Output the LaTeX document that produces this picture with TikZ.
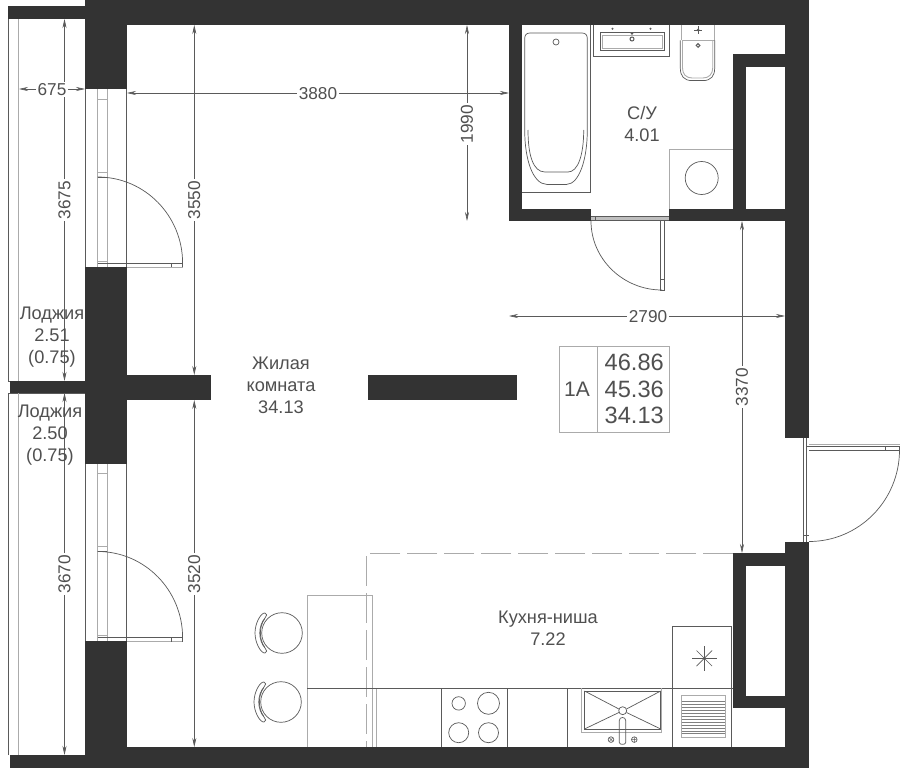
\documentclass[tikz,border=0pt]{standalone}
\usepackage{fontspec}
\setmainfont{Liberation Sans}
\usetikzlibrary{arrows.meta}
\definecolor{wallc}{HTML}{333333}
\definecolor{inkc}{HTML}{5A5A5A}
\definecolor{paleline}{HTML}{ABABAB}
\definecolor{textc}{HTML}{505050}
\tikzset{
  wall/.style={fill=wallc,draw=none},
  thin line/.style={draw=inkc,line width=0.7pt},
  pale line/.style={draw=paleline,line width=0.9pt},
  dim/.style={draw=inkc,line width=0.6pt,{Stealth[length=9pt,width=4pt]}-{Stealth[length=9pt,width=4pt]}},
  dimtext/.style={fill=white,inner sep=1.5pt,text=textc,font=\fontsize{17.2}{18}\selectfont},
  roomtext/.style={text=textc,align=center,inner sep=0pt,font=\fontsize{18.2}{22}\selectfont},
  bigtext/.style={text=textc,inner sep=0pt,anchor=west,font=\fontsize{23.6}{25}\selectfont},
  kitchenzone/.style={draw=paleline,line width=0.8pt,dash pattern=on 30pt off 7pt}
}
\newcommand{\balconydoor}{%
  \draw[pale line] (97.7,0) -- (97.7,178) (107.3,0) -- (107.3,178);
  \draw[thin line] (85.3,0) -- (85.3,178) (126.7,0) -- (126.7,178);
  \draw[pale line] (97.7,10) -- (107.3,10) (97.7,83) -- (107.3,83) (97.7,172) -- (107.3,172);
  \draw[thin line] (97.7,88) -- (107.3,88);
  \draw[thin line] (97.7,88) .. controls (145,88) and (182.6,127) .. (182.6,174);
  \draw[pale line] (97.7,178) -- (182.6,178);
  \draw[thin line] (97.7,174) -- (182.6,174) -- (182.6,178) (171.7,174) -- (171.7,178);
}
\newcommand{\barstool}[2]{%
  \draw[thin line] (#1,#2) circle (20.3);
  \draw[thin line] (#1-17.5,#2-14) .. controls (#1-23,#2-6) and (#1-23,#2+6) .. (#1-17.5,#2+14);
  \draw[thin line] (#1-17,#2-20) .. controls (#1-21,#2-20.5) and (#1-27,#2-10) .. (#1-27,#2)
     .. controls (#1-27,#2+10) and (#1-21,#2+20.5) .. (#1-17,#2+20)
     .. controls (#1-14.5,#2+19.5) and (#1-15,#2+17) .. (#1-17,#2+15)
     .. controls (#1-24,#2+7) and (#1-24,#2-7) .. (#1-17,#2-15)
     .. controls (#1-15,#2-17) and (#1-14.5,#2-19.5) .. (#1-17,#2-20) -- cycle;
}
\begin{document}
\begin{tikzpicture}[x=1pt,y=-1pt]
\useasboundingbox (0,0) rectangle (900,768);
\fill[white] (0,0) rectangle (900,768);

% loggia outlines
\draw[thin line] (8.3,19) -- (8.3,381) -- (85,381);
\draw[thin line] (8.3,755) -- (8.3,393) -- (85,393);
\draw[pale line] (18.5,19) -- (18.5,381) (18.5,393) -- (18.5,755);

% balcony doors
\begin{scope}[shift={(0,89)}]\balconydoor\end{scope}
\begin{scope}[shift={(0,463.5)}]\balconydoor\end{scope}

% walls
\fill[wall] (85,0) rectangle (809,25);
\fill[wall] (8,6.5) rectangle (85,19);
\fill[wall] (85,0) rectangle (127,89);
\fill[wall] (85,267) rectangle (127,464);
\fill[wall] (85,641) rectangle (127,768);
\fill[wall] (10,381) rectangle (85,393);
\fill[wall] (85,375) rectangle (211,400);
\fill[wall] (368,375) rectangle (517,400);
\fill[wall] (85,747) rectangle (809,768);
\fill[wall] (10,755) rectangle (85,768);
\fill[wall] (509,25) rectangle (521.5,221);
\fill[wall] (509,209) rectangle (591,221);
\fill[wall] (669.3,209) rectangle (809,221);
\fill[wall] (733,54) rectangle (746,221);
\fill[wall] (733,54) rectangle (785,66.7);
\fill[wall] (785,25) rectangle (809,438);
\fill[wall] (785,542) rectangle (809,768);
\fill[wall] (733,553) rectangle (785,566);
\fill[wall] (733,553) rectangle (746,708);
\fill[wall] (733,696) rectangle (785,708);

% entrance door
\draw[thin line] (803.3,438) -- (803.3,542) (806,438) -- (806,542);
\draw[thin line] (803.3,535) -- (809,535);
\draw[pale line] (809,444.7) -- (899.5,444.7) (809,450.5) -- (899.5,450.5);
\draw[thin line] (806,446) -- (899.5,446) -- (899.5,450) -- (809,450) (885,446) -- (885,450);
\draw[thin line] (899.5,450) .. controls (899.5,500.5) and (859,541.5) .. (809,541.5);

% bathroom door
\fill[black!25] (591,216.7) rectangle (669,220.7);
\draw[thin line] (591,216.7) -- (669,216.7) (591,220.7) -- (669,220.7) (595.7,216.7) -- (595.7,220.7);
\draw[thin line] (660.3,220.7) -- (660.3,290) -- (664.3,290) -- (664.3,220.7) (660.3,279) -- (664.3,279);
\draw[thin line] (591,221) .. controls (591,259) and (623,290) .. (662,290);

% bath
\draw[thin line] (521.5,192.7) -- (590.7,192.7) -- (590.7,25);
\draw[thin line] (530,33) -- (582,33) .. controls (585.5,33) and (587.3,35) .. (587.3,38.5)
  -- (587.3,130) .. controls (587.3,160) and (579,184) .. (566.7,184.4) -- (546.7,184.4)
  .. controls (533,184) and (524.7,160) .. (524.7,130) -- (524.7,38.5) .. controls (524.7,35) and (526.5,33) .. (530,33) -- cycle;
\draw[thin line] (528,130) .. controls (528,155) and (533,172) .. (545,172) -- (568,172) .. controls (578,172) and (583.7,155) .. (583.7,130);
\draw[thin line] (556,42) circle (3);

% washbasin
\draw[thin line] (593.3,25) -- (593.3,56.3) -- (669.3,56.3) -- (669.3,25);
\draw[thin line] (600,32.7) rectangle (664,50.3);
\draw[pale line] (602,35) rectangle (662,48);
\fill[inkc] (612.5,28.7) circle (1.1) (650.5,28.7) circle (1.1) (632,33.5) circle (1.3);
\draw[inkc,line width=1pt] (632,39) circle (2);

% toilet
\draw[pale line] (681.7,25) -- (681.7,40) (714.3,25) -- (714.3,40);
\draw[pale line] (681.5,40.5) -- (714.5,40.5);
\draw[thin line] (680.3,40.5) -- (680.3,68) .. controls (680.3,76) and (684,80.6) .. (692,80.6) -- (703,80.6) .. controls (711,80.6) and (714.7,76) .. (714.7,68) -- (714.7,40.5);
\draw[pale line] (682.5,41) -- (682.5,68) .. controls (682.5,74) and (686,78) .. (692,78) -- (703,78) .. controls (709,78) and (712.7,74) .. (712.7,68) -- (712.7,41);
\fill[inkc] (698,30) circle (1.5);
\draw[inkc,line width=0.5pt] (694,30) -- (702,30) (698,26) -- (698,34);
\draw[inkc,line width=1pt] (698,45.5) circle (1.8);

% washing machine
\draw[pale line] (669.3,209) -- (669.3,149) -- (733,149);
\draw[thin line] (701.7,178) circle (16.5);

% kitchen zone
\draw[kitchenzone] (733,553) -- (366.3,553) -- (366.3,747);

% kitchen furniture
\draw[pale line] (307,747) -- (307,595.7) -- (372,595.7) -- (372,688) (372,688) -- (372,747) (376,688) -- (376,747);
\draw[thin line] (307,688) -- (733,688);
\draw[thin line] (441.3,688) -- (441.3,747) (507.6,688) -- (507.6,747) (567.6,688) -- (567.6,747) (672.3,626.3) -- (672.3,747) (731.7,626.3) -- (731.7,747);
\draw[thin line] (672.3,626.3) -- (731.7,626.3);
\draw[thin line] (458.7,703.4) circle (6.7) (488.5,703.3) circle (11) (458.7,732.7) circle (10) (488.5,732.7) circle (10);

% sink
\draw[pale line] (581.7,688) -- (581.7,732.7) -- (661.7,732.7) -- (661.7,688);
\draw[thin line] (584.5,691) rectangle (660.7,729);
\draw[thin line] (584.5,691) -- (618.9,709) (660.7,691) -- (626.5,709) (584.5,729) -- (618.9,712.5) (660.7,729) -- (626.5,712.5);
\draw[thin line] (622.7,710.7) circle (4);
\draw[thin line] (619.3,720.5) .. controls (619.3,716.5) and (625.7,716.5) .. (625.7,720.5) -- (625.7,742.5) .. controls (625.7,745) and (619.3,745) .. (619.3,742.5) -- cycle;
\draw[thin line] (611,739.6) circle (2.8) (634.3,739.6) circle (2.8);
\draw[inkc,line width=0.5pt] (609,737.6) -- (613,741.6) (632,739.6) -- (636.6,739.6) (634.3,737.3) -- (634.3,741.9) (609,741.6) -- (613,737.6);

% cooktop star and grate
\foreach \a/\r in {0/12.5,45/11,90/12.5,135/11,180/12.5,225/11,270/12.5,315/11} { \draw[inkc,line width=0.6pt] (704.3,658.3) -- ++(\a:\r); }
\fill[inkc] (704.3,658.3) circle (1.3);
\draw[pale line] (681.7,695) rectangle (725,737.5);
\foreach \yy/\w in {701.5/1.6,704.6/1.4,707.5/1.6,710.5/1.6,713.5/1.4,716.3/1.2,719.5/1.0,722.5/1.0,725.3/1.0,728.2/1.0,731/1.0,733.5/0.8}
  { \draw[draw=black!50,line width=\w pt] (681.7,\yy) -- (725,\yy); }
\barstool{282}{633}
\barstool{281}{702}

% info table
\draw[pale line] (559,346.7) rectangle (669.3,432) (597.7,346.7) -- (597.7,432);
\node[bigtext,anchor=center] (kind) at (577,389.5) {\fontsize{21}{23}\selectfont 1A};
\node[bigtext] (areaA) at (604.5,362) {46.86};
\node[bigtext] (areaB) at (604.5,389) {45.36};
\node[bigtext] (areaC) at (604.5,415) {34.13};

% dimensions
\draw[dim] (64.5,19) -- (64.5,381);
\node[dimtext,rotate=90] (dA) at (64.5,200) {3675};
\draw[dim] (64.5,393) -- (64.5,755);
\node[dimtext,rotate=90] (dB) at (64.5,574) {3670};
\draw[dim] (194.3,25) -- (194.3,375);
\node[dimtext,rotate=90] (dC) at (194.3,200) {3550};
\draw[dim] (194.3,400) -- (194.3,747);
\node[dimtext,rotate=90] (dD) at (194.3,574) {3520};
\draw[dim] (19,89) -- (85,89);
\node[dimtext] (dE) at (52,89.5) {675};
\draw[dim] (127,93) -- (509,93);
\node[dimtext] (dF) at (318,93.5) {3880};
\draw[dim] (467,25) -- (467,221);
\node[dimtext,rotate=90] (dG) at (467,124) {1990};
\draw[dim] (509,316) -- (785,316);
\node[dimtext] (dH) at (648,316.5) {2790};
\draw[dim] (742,221) -- (742,553);
\node[dimtext,rotate=90] (dI) at (742,387) {3370};

% room labels
\node[roomtext] (living) at (281,385) {Жилая\\комната\\34.13};
\node[roomtext] (loggiaA) at (52,337) {Лоджия\\2.51\\(0.75)};
\node[roomtext] (loggiaB) at (50,435) {Лоджия\\2.50\\(0.75)};
\node[roomtext] (bathroom) at (642,123.5) {С/У\\4.01};
\node[roomtext] (kitchen) at (548,628.5) {Кухня-ниша\\7.22};
\end{tikzpicture}
\end{document}
